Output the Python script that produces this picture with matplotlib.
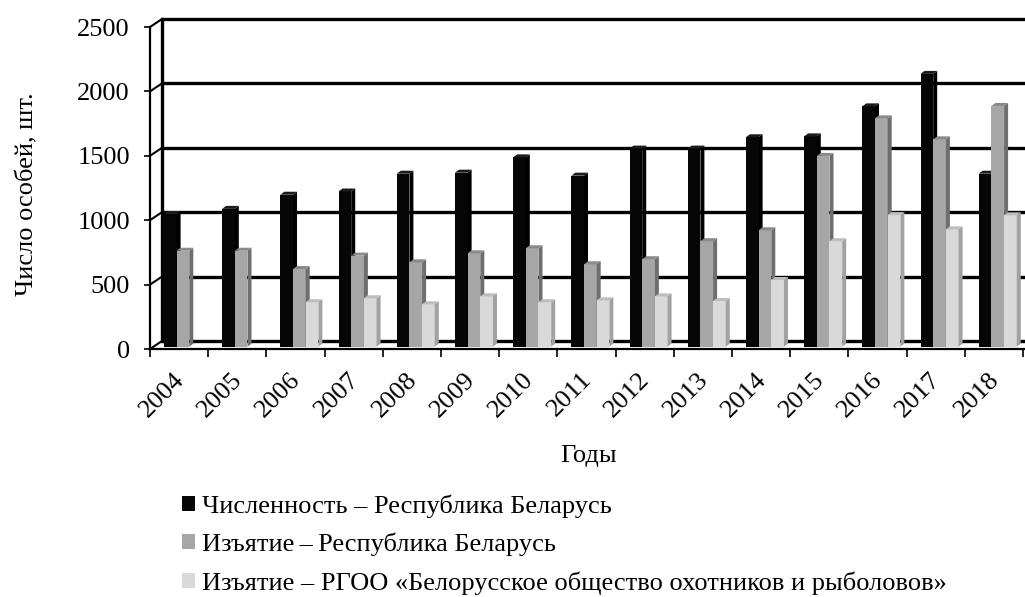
import matplotlib
matplotlib.use('Agg')
import matplotlib.pyplot as plt
import matplotlib.transforms as mtransforms
from matplotlib.patches import Polygon, Patch

# ---------------- data ----------------
years = ['2004', '2005', '2006', '2007', '2008', '2009', '2010', '2011',
         '2012', '2013', '2014', '2015', '2016', '2017', '2018']
chislennost_rb = [1030, 1070, 1180, 1205, 1343, 1351, 1470, 1328,
                  1538, 1538, 1626, 1633, 1866, 2118, 1343]
izyatie_rb = [745, 745, 603, 707, 655, 725, 764, 640,
              679, 819, 904, 1481, 1773, 1610, 1869]
izyatie_rgoo = [0, 0, 345, 376, 329, 391, 345, 360,
                391, 355, 518, 819, 1022, 911, 1020]
series_labels = ['Численность – Республика Беларусь',
                 'Изъятие\u2009–\u2009Республика Беларусь',
                 'Изъятие – РГОО «Белорусское общество охотников и рыболовов»']
y_ticks = [0, 500, 1000, 1500, 2000, 2500]

# ---------------- style ----------------
plt.rcParams['font.family'] = ['Liberation Serif', 'DejaVu Serif']
FS = 19
front_cols = ['#060606', '#a6a6a6', '#d9d9d9']
side_cols = ['#000000', '#6e6e6e', '#a2a2a2']
top_cols = ['#1c1c1c', '#8a8a8a', '#bdbdbd']

W, H = 1025, 597
fig = plt.figure(figsize=(W / 100, H / 100), dpi=100)
L, R, T, B = 150, 1025, 27, 349          # front plane of the plot, in pixels
ax = fig.add_axes([L / W, 1 - B / H, (R - L) / W, (B - T) / H])
cat_px = 58.2
xmax = -0.5 + (R - L) / cat_px
ax.set_xlim(-0.5, xmax)
ax.set_ylim(0, 2500)
px_x = 1 / cat_px                # data units per pixel (x)
px_y = 2500 / (B - T)            # data units per pixel (y)

# back wall offset (pseudo 3D)
bdx, bdy = 12 * px_x, 8 * px_y
for v in y_ticks:
    ax.plot([-0.5 + bdx, xmax + 1], [v + bdy, v + bdy], color='black', lw=2.4,
            clip_on=False, zorder=1, solid_capstyle='butt')
    ax.plot([-0.5, -0.5 + bdx], [v, v + bdy], color='black', lw=1.5,
            clip_on=False, zorder=1)
ax.plot([-0.5 + bdx, -0.5 + bdx], [bdy, 2500 + bdy], color='black', lw=2.4,
        clip_on=False, zorder=1)

# bars
series = [chislennost_rb, izyatie_rb, izyatie_rgoo]
w = 12.7 * px_x
offsets = [-0.152, 0.066, 0.284]
ddx, ddy = 4 * px_x, 3 * px_y
b0 = 2.3 * px_y
x = list(range(len(years)))
for k, vals in enumerate(series):
    z = 3 + k
    xs = [xi + offsets[k] for xi in x]
    ax.bar(xs, vals, width=w, bottom=b0, color=front_cols[k], edgecolor='none',
           zorder=z, clip_on=False)
    for xc, v in zip(xs, vals):
        if v <= 0:
            continue
        x0, x1 = xc - w / 2, xc + w / 2
        top = b0 + v
        ax.add_patch(Polygon([(x1, b0), (x1 + ddx, b0 + ddy), (x1 + ddx, top + ddy),
                              (x1, top)], closed=True, facecolor=side_cols[k],
                             edgecolor='none', zorder=z + 0.1, clip_on=False))
        ax.add_patch(Polygon([(x0, top), (x1, top), (x1 + ddx, top + ddy),
                              (x0 + ddx, top + ddy)], closed=True,
                             facecolor=top_cols[k], edgecolor='none',
                             zorder=z + 0.2, clip_on=False))

# axes / ticks
for s in ['top', 'right']:
    ax.spines[s].set_visible(False)
ax.spines['left'].set_linewidth(1.6)
ax.spines['bottom'].set_linewidth(1.6)
ax.spines['left'].set_zorder(10)
ax.spines['bottom'].set_zorder(10)
ax.set_yticks(y_ticks)
ax.set_yticklabels([str(v) for v in y_ticks], fontsize=FS)
ax.tick_params(axis='y', direction='out', length=4.5, width=1.2, pad=10)
ax.set_xticks(x)
ax.set_xticklabels(years, fontsize=FS, rotation=45, ha='right',
                   rotation_mode='anchor')
ax.tick_params(axis='x', which='major', length=0, pad=14)
shift = mtransforms.ScaledTranslation(-6 / 100, 0, fig.dpi_scale_trans)
for lab in ax.get_xticklabels():
    lab.set_transform(lab.get_transform() + shift)
ax.set_xticks([i - 0.5 for i in range(len(years) + 1)], minor=True)
ax.tick_params(axis='x', which='minor', direction='out', length=6, width=1.2)
ax.set_facecolor('none')

fig.text(27 / W, 1 - 194 / H, 'Число особей, шт.', rotation=90,
         ha='center', va='center', fontsize=FS)
fig.text(589 / W, 1 - 456 / H, 'Годы', ha='center', va='center', fontsize=FS)

handles = [Patch(facecolor=c, edgecolor='none') for c in front_cols]
fig.legend(handles, series_labels, loc='upper left',
           bbox_to_anchor=(182 / W, 1 - 494 / H), frameon=False, fontsize=FS,
           handlelength=0.5, handleheight=0.5, handletextpad=0.25,
           labelspacing=0.58, borderpad=0, borderaxespad=0)

fig.savefig('out.png', dpi=100)
